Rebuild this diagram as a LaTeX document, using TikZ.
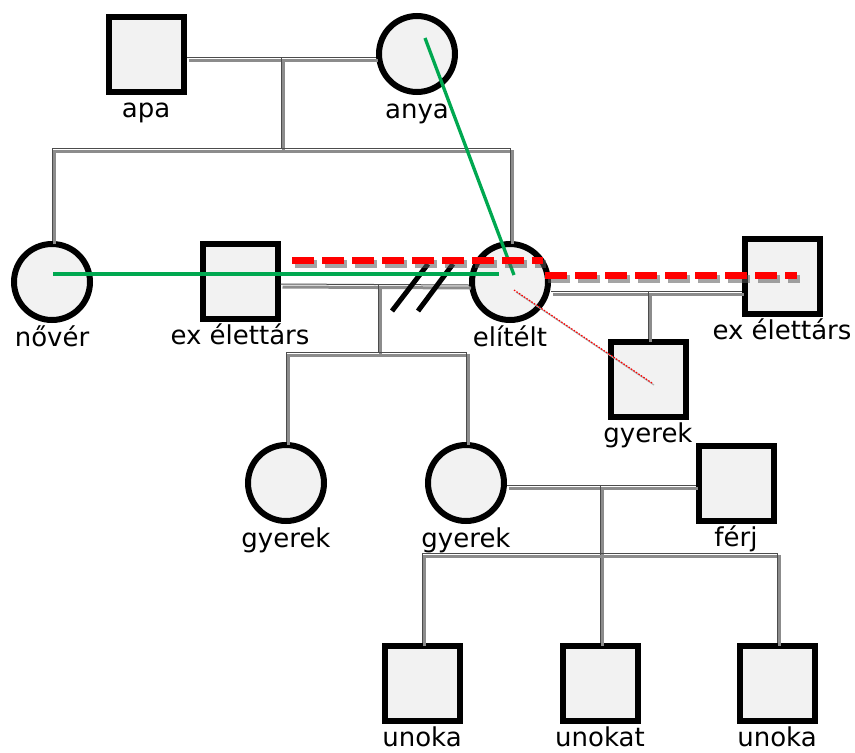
\documentclass[tikz,border=0pt]{standalone}
\usepackage{fontspec}
\setmainfont{DejaVu Sans}
\usetikzlibrary{calc}
\definecolor{boxfill}{HTML}{F2F2F2}
\definecolor{linkgreen}{RGB}{0,168,80}
\begin{document}
\begin{tikzpicture}[x=1pt,y=-1pt,
  person/.style={draw=black, line width=6pt, fill=boxfill, inner sep=0pt},
  male/.style={person, rectangle, minimum size=75pt},
  female/.style={person, circle, minimum size=76pt},
  lbl/.style={font=\fontsize{26}{30}\selectfont, inner sep=0pt, anchor=base},
  rel/.style={draw=black!70, line width=1pt,
    preaction={draw=black!45, line width=3pt, transform canvas={shift={(2pt,-3pt)}}}},
  divorce/.style={draw=black, line width=5pt},
  closeline/.style={draw=linkgreen, line width=3.3pt},
  hostile/.style={draw=red, line width=7pt, dash pattern=on 22pt off 8pt,
    preaction={draw=black!65, opacity=0.55, line width=8pt, dash pattern=on 22pt off 8pt, transform canvas={shift={(3pt,-4pt)}}}},
  distant/.style={draw=red, line width=1.2pt, dash pattern=on 1.5pt off 1.5pt,
    preaction={draw=black!30, line width=1.2pt, transform canvas={shift={(2pt,-2pt)}}}}
]
\useasboundingbox (0,0) rectangle (855,753);

% persons
\node[male]   (apa)     at (146,54)  {};
\node[female] (anya)    at (417,54)  {};
\node[female] (nover)   at (52,282)  {};
\node[male]   (ex1)     at (240,281) {};
\node[female] (elitelt) at (510,282) {};
\node[male]   (ex2)     at (782,276) {};
\node[male]   (gyR)     at (648,379) {};
\node[female] (gyL)     at (286,483) {};
\node[female] (gyM)     at (466,483) {};
\node[male]   (ferj)    at (736,483) {};
\node[male]   (u1)      at (422,683) {};
\node[male]   (u2)      at (600,683) {};
\node[male]   (u3)      at (777,683) {};

% labels
\node[lbl] (lapa)  at ([yshift=-23pt]apa.south)     {apa};
\node[lbl] (lanya) at ([yshift=-23pt]anya.south)    {anya};
\node[lbl] (lnov)  at ([yshift=-23pt]nover.south)   {nővér};
\node[lbl] (lex1)  at ([yshift=-23pt]ex1.south)     {ex élettárs};
\node[lbl] (lel)   at ([yshift=-23pt]elitelt.south) {elítélt};
\node[lbl] (lex2)  at ([yshift=-23pt]ex2.south)     {ex élettárs};
\node[lbl] (lgyR)  at ([yshift=-23pt]gyR.south)     {gyerek};
\node[lbl] (lgyL)  at ([yshift=-23pt]gyL.south)     {gyerek};
\node[lbl] (lgyM)  at ([yshift=-23pt]gyM.south)     {gyerek};
\node[lbl] (lferj) at ([yshift=-23pt]ferj.south)    {férj};
\node[lbl] (lu1)   at ([yshift=-23pt]u1.south)      {unoka};
\node[lbl] (lu2)   at ([yshift=-23pt]u2.south)      {unokat};
\node[lbl] (lu3)   at ([yshift=-23pt]u3.south)      {unoka};

% family relations
\coordinate (m1) at (281,57);
\coordinate (s1) at (281,148);
\draw[rel] ([yshift=-3pt]apa.east) -- ([yshift=-3pt]anya.west);
\draw[rel] (m1) -- (s1);
\draw[rel] (nover.north) -- (nover.north |- s1) -- (elitelt.north |- s1) -- (elitelt.north);

\coordinate (m2) at (378,284);
\coordinate (s2) at (378,352);
\draw[rel] ([yshift=-3pt]ex1.east) -- ([yshift=-3pt]elitelt.west);
\draw[rel] (m2) -- (s2);
\draw[rel] (gyL.north) -- (gyL.north |- s2) -- (gyM.north |- s2) -- (gyM.north);

\coordinate (m3) at (648,291);
\draw[rel] ([yshift=-9pt]elitelt.east) -- ([yshift=-15pt]ex2.west);
\draw[rel] (gyR.north |- m3) -- (gyR.north);

\coordinate (m4) at (600,485);
\coordinate (s4) at (600,553);
\draw[rel] ([yshift=-2pt]gyM.east) -- ([yshift=-2pt]ferj.west);
\draw[rel] (m4) -- (u2.north);
\draw[rel] (u1.north) -- (u1.north |- s4) -- (u3.north |- s4) -- (u3.north);

% divorce marks
\coordinate (d1a) at (392,311); \coordinate (d1b) at (428,264);
\coordinate (d2a) at (418,311); \coordinate (d2b) at (453,264);
\draw[divorce] (d1a) -- (d1b);
\draw[divorce] (d2a) -- (d2b);

% emotional relations
\draw[closeline] ($(anya.center)+(8,-16)$) -- ($(elitelt.center)+(4,-7)$);
\draw[closeline] ($(nover.center)+(1,-8)$) -- ($(elitelt.center)+(-11,-8)$);
\draw[hostile] ($(ex1.center)+(52,-21)$) -- ($(elitelt.center)+(33,-22)$);
\draw[hostile] ($(elitelt.center)+(35,-7)$) -- ($(ex2.center)+(15,-1)$);
\draw[distant] ($(elitelt.center)+(4,8)$) -- ($(gyR.center)+(4,4)$);
\end{tikzpicture}
\end{document}
